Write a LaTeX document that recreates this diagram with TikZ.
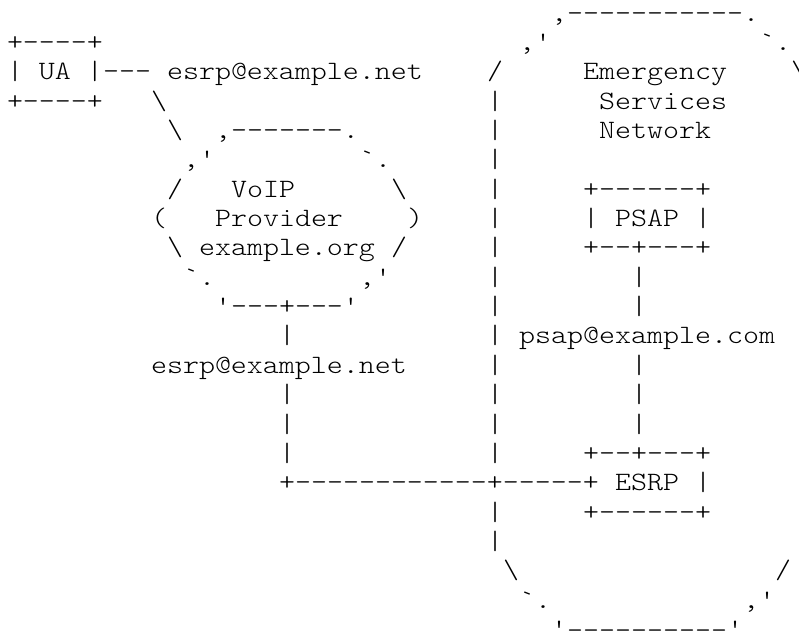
\documentclass[tikz,border=0pt]{standalone}
\usepackage{fontspec}
\setmonofont{lmmonolt10-regular.otf}[FakeStretch=1.15]
\usepackage{tikz}

\begin{document}
\begin{tikzpicture}[x=16pt,y=-29.36pt,
  asc/.style={anchor=base west,inner sep=0pt,outer sep=0pt,
    font=\ttfamily\fontsize{26.5pt}{29.36pt}\selectfont}]
\useasboundingbox (0pt,0pt) rectangle (799pt,-630pt);
\begin{scope}[shift={(7pt,-21pt)}]
% user agent
\node[asc] (uaTop) at (0,1) {+----+};
\node[asc] (ua) at (0,2) {| UA |};
\node[asc] (uaBot) at (0,3) {+----+};
\node[asc] (uaLink) at (6,2) {---};
\node[asc] (uaAddr) at (10,2) {esrp@example.net};
\node[asc] (uaSlashA) at (9,3) {\textbackslash};
\node[asc] (uaSlashB) at (10,4) {\textbackslash};

% voip provider
\node[asc] (voipTop) at (13,4) {,-------.};
\node[asc] (voipTL) at (11,5) {,'};
\node[asc] (voipTR) at (22,5) {`.};
\node[asc] (voipUL) at (10,6) {/};
\node[asc] (voip) at (14,6) {VoIP};
\node[asc] (voipUR) at (24,6) {\textbackslash};
\node[asc] (voipL) at (9,7) {(};
\node[asc] (voipName) at (13,7) {Provider};
\node[asc] (voipR) at (25,7) {)};
\node[asc] (voipLL) at (10,8) {\textbackslash};
\node[asc] (voipDom) at (12,8) {example.org};
\node[asc] (voipLR) at (24,8) {/};
\node[asc] (voipBL) at (11,9) {`.};
\node[asc] (voipBR) at (22,9) {,'};
\node[asc] (voipBot) at (13,10) {'---+---'};
\node[asc] (voipAddr) at (9,12) {esrp@example.net};
\foreach \r in {11,13,14,15}
  \node[asc] (voipBar\r) at (17,\r) {|};
\node[asc] (trunk) at (17,16) {+------------+-----+};

% emergency services network
\node[asc] (esnTop) at (34,0) {,-----------.};
\node[asc] (esnTL) at (32,1) {,'};
\node[asc] (esnTR) at (47,1) {`.};
\node[asc] (esnUL) at (30,2) {/};
\node[asc] (esnUR) at (49,2) {\textbackslash};
\node[asc] (esn) at (36,2) {Emergency};
\node[asc] (esnB) at (37,3) {Services};
\node[asc] (esnC) at (37,4) {Network};
\foreach \r in {3,...,15,17,18}
  \node[asc] (esnBar\r) at (30,\r) {|};
\node[asc] (esnLL) at (31,19) {\textbackslash};
\node[asc] (esnLR) at (48,19) {/};
\node[asc] (esnBL) at (32,20) {`.};
\node[asc] (esnBR) at (46,20) {,'};
\node[asc] (esnBotL) at (34,21) {'};
\node[asc,yshift=11pt] (esnBot) at (35,21) {\_\_\_\_\_\_\_\_\_\_};
\node[asc] (esnBotR) at (45,21) {'};

% psap and esrp
\node[asc] (psapTop) at (36,6) {+------+};
\node[asc] (psap) at (36,7) {| PSAP |};
\node[asc] (psapBot) at (36,8) {+--+---+};
\node[asc] (psapAddr) at (32,11) {psap@example.com};
\foreach \r in {9,10,12,13,14}
  \node[asc] (psapBar\r) at (39,\r) {|};
\node[asc] (esrpTop) at (36,15) {+--+---+};
\node[asc] (esrp) at (38,16) {ESRP};
\node[asc] (esrpR) at (43,16) {|};
\node[asc] (esrpBot) at (36,17) {+------+};
\end{scope}
\end{tikzpicture}
\end{document}
